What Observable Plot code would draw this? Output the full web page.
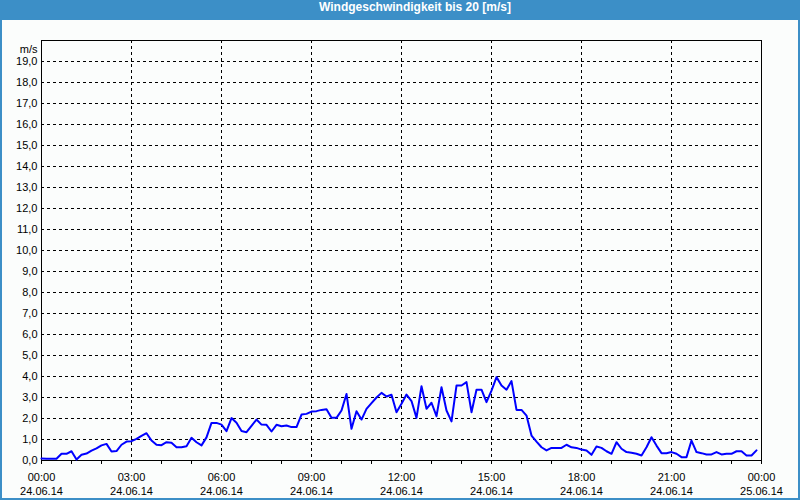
<!DOCTYPE html>
<html>
<head>
<meta charset="utf-8">
<script src="https://cdn.jsdelivr.net/npm/d3@7"></script>
<script src="https://cdn.jsdelivr.net/npm/@observablehq/plot@0.6"></script>
<style>
  html, body { margin: 0; padding: 0; background: #fbfdfc; }
  #wrap { position: relative; width: 800px; height: 500px; background: #fbfdfc; overflow: hidden; }
  #title { height: 20px; line-height: 20px; background: #3c8fc7; color: #fff; text-align: center;
           padding-left: 30px; font: bold 12px "Liberation Sans", "DejaVu Sans", sans-serif; }
  #border { position: absolute; left: 0; top: 0; width: 796px; height: 498px; border-left: 2px solid #3c8fc7;
            border-right: 2px solid #3c8fc7; border-bottom: 2px solid #3c8fc7; pointer-events: none; }
  svg { display: block; }
</style>
</head>
<body>
<div id="wrap">
  <div id="title">Windgeschwindigkeit bis 20 [m/s]</div>
  <div id="chart"></div>
  <div id="border"></div>
</div>
<script>
// Measurement series: one value every 10 minutes starting 24.06.14 00:00
const startTime = "2014-06-24T00:00:00Z";
const endTime = "2014-06-25T00:00:00Z";
const stepMinutes = 10;
const windSpeed = [
  0.10, 0.08, 0.08, 0.08, 0.32, 0.32, 0.44, 0.05, 0.27, 0.33, 0.47, 0.58,
  0.72, 0.79, 0.43, 0.45, 0.75, 0.90, 0.92, 1.03, 1.17, 1.30, 0.95, 0.75,
  0.73, 0.87, 0.84, 0.63, 0.63, 0.68, 1.08, 0.87, 0.72, 1.10, 1.79, 1.79,
  1.71, 1.40, 2.02, 1.80, 1.40, 1.35, 1.65, 1.95, 1.71, 1.70, 1.38, 1.70,
  1.63, 1.67, 1.59, 1.59, 2.19, 2.22, 2.33, 2.35, 2.41, 2.44, 2.03, 2.03,
  2.38, 3.17, 1.51, 2.35, 1.95, 2.46, 2.73, 3.00, 3.22, 3.05, 3.13, 2.30,
  2.70, 3.14, 2.83, 2.03, 3.54, 2.46, 2.75, 2.11, 3.49, 2.38, 1.86, 3.57,
  3.57, 3.73, 2.30, 3.37, 3.37, 2.78, 3.33, 3.97, 3.57, 3.37, 3.78, 2.41,
  2.41, 2.14, 1.19, 0.90, 0.63, 0.48, 0.60, 0.60, 0.60, 0.75, 0.63, 0.60,
  0.52, 0.48, 0.27, 0.67, 0.60, 0.44, 0.32, 0.87, 0.56, 0.40, 0.37, 0.32,
  0.24, 0.63, 1.11, 0.71, 0.35, 0.35, 0.40, 0.32, 0.16, 0.16, 0.95, 0.40,
  0.35, 0.29, 0.29, 0.40, 0.29, 0.32, 0.32, 0.44, 0.44, 0.24, 0.24, 0.48
];
const yTickValues = [0,1,2,3,4,5,6,7,8,9,10,11,12,13,14,15,16,17,18,19];
const yGridValues = [1,2,3,4,5,6,7,8,9,10,11,12,13,14,15,16,17,18,19];
const yUnit = "m/s";
const labelHours = [0,3,6,9,12,15,18,21,24];
const gridHours = [3,6,9,12,15,18,21];
const minorHours = d3.range(0, 25);

const t0 = new Date(startTime);
const t1 = new Date(endTime);
const atHour = h => new Date(+t0 + h * 3600e3);
const data = windSpeed.map((v, i) => ({ time: new Date(+t0 + i * stepMinutes * 60e3), value: v }));

const fmtTime = d3.utcFormat("%H:%M");
const fmtDate = d3.utcFormat("%d.%m.%y");

const chart = Plot.plot({
  width: 800,
  height: 480,
  marginTop: 20,
  marginBottom: 40,
  marginLeft: 41,
  marginRight: 39,
  style: { fontSize: "11px", fontFamily: "'Liberation Sans', 'DejaVu Sans', sans-serif", color: "#000", background: "transparent" },
  x: { type: "utc", domain: [t0, t1] },
  y: { domain: [0, 20] },
  marks: [
    Plot.gridY(yGridValues, { stroke: "#000", strokeOpacity: 1, strokeDasharray: "3,3" }),
    Plot.gridX(gridHours.map(atHour), { stroke: "#000", strokeOpacity: 1, strokeDasharray: "3,3" }),
    Plot.frame({ stroke: "#000" }),
    Plot.axisY(yTickValues, { tickSize: 0, tickPadding: 4, tickFormat: d => d.toFixed(1).replace(".", ","), label: null }),
    Plot.text([yUnit], { frameAnchor: "top-left", textAnchor: "end", dx: -4, dy: 5 }),
    Plot.axisX(minorHours.map(atHour), { tickSize: 4, tickFormat: () => "", label: null, stroke: "#000" }),
    Plot.axisX(labelHours.map(atHour), { tickSize: 0, tickPadding: 11, lineHeight: 1.27, tickFormat: d => fmtTime(d) + "\n" + fmtDate(d), label: null }),
    Plot.line(data, { x: "time", y: "value", stroke: "#0000ff", strokeWidth: 2 })
  ]
});
document.getElementById("chart").appendChild(chart);
</script>
</body>
</html>
